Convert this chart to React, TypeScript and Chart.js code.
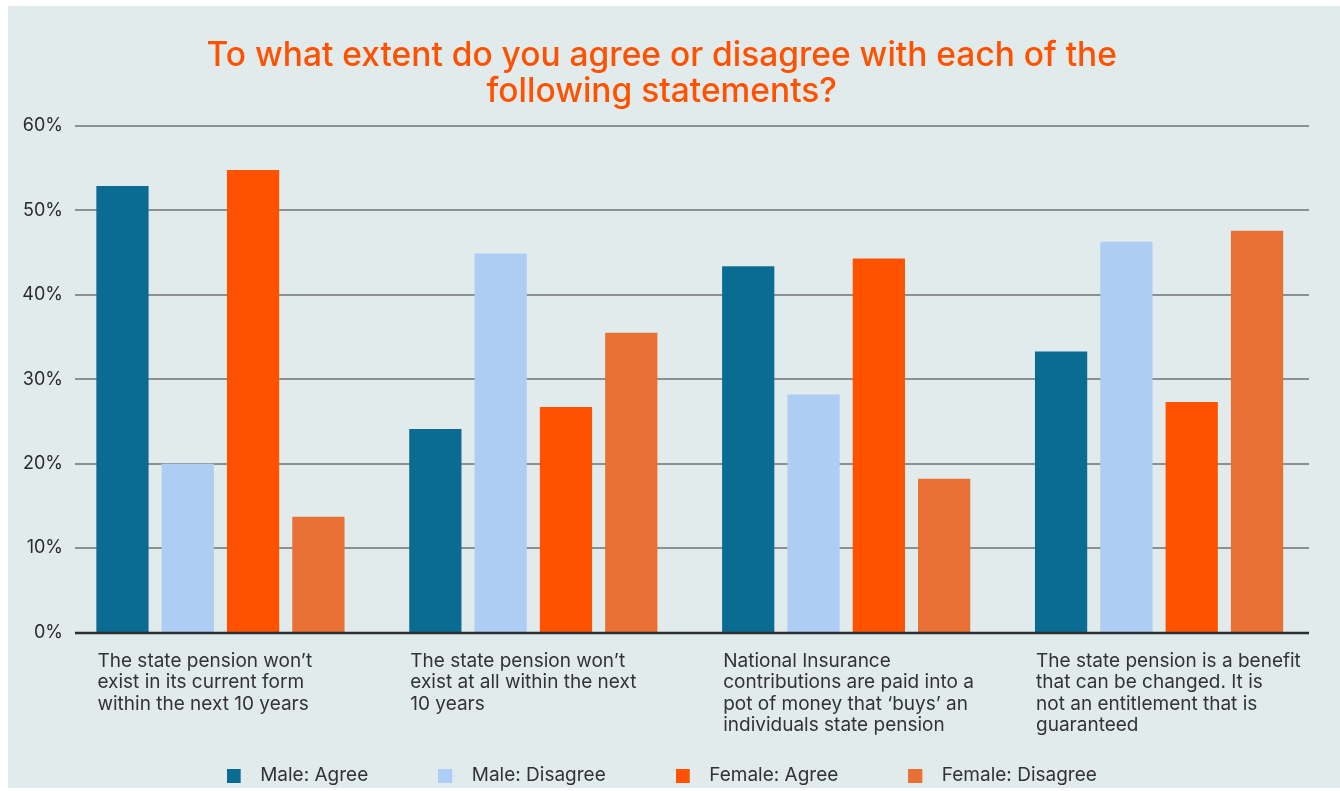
import React, { useEffect, useRef } from 'react';
import { Chart, registerables } from 'chart.js';

Chart.register(...registerables);

const titleLines = [
  'To what extent do you agree or disagree with each of the',
  'following statements?',
];

const categories: string[][] = [
  ['The state pension won’t', 'exist in its current form', 'within the next 10 years'],
  ['The state pension won’t', 'exist at all within the next', '10 years'],
  ['National Insurance', 'contributions are paid into a', 'pot of money that ‘buys’ an', 'individuals state pension'],
  ['The state pension is a benefit', 'that can be changed. It is', 'not an entitlement that is', 'guaranteed'],
];

const seriesNames = ['Male: Agree', 'Male: Disagree', 'Female: Agree', 'Female: Disagree'];
const maleAgree = [52.9, 24.1, 43.4, 33.3];
const maleDisagree = [20.0, 44.9, 28.2, 46.3];
const femaleAgree = [54.8, 26.7, 44.3, 27.3];
const femaleDisagree = [13.7, 35.5, 18.2, 47.6];
const seriesColors = ['#0b6c93', '#adcdf4', '#ff5200', '#e87034'];

const yMin = 0;
const yMax = 60;
const yStep = 10;

const FONT = 'Inter, "Noto Sans", sans-serif';

function makeLegendBox(color: string): HTMLCanvasElement {
  const c = document.createElement('canvas');
  c.width = 24;
  c.height = 14;
  const ctx = c.getContext('2d')!;
  ctx.fillStyle = color;
  ctx.fillRect(0, 0, 14, 14);
  return c;
}

const gridPlugin = {
  id: 'customGrid',
  beforeDatasetsDraw(chart: any) {
    const { ctx, chartArea, scales } = chart;
    const y = scales.y;
    ctx.save();
    y.ticks.forEach((t: any) => {
      if (t.value === 0) return;
      const py = Math.round(y.getPixelForValue(t.value));
      ctx.beginPath();
      ctx.strokeStyle = '#8c9092';
      ctx.lineWidth = 2;
      ctx.moveTo(chartArea.left + 11, py);
      ctx.lineTo(chartArea.right - 6.5, py);
      ctx.stroke();
    });
    ctx.restore();
  },
  afterDatasetsDraw(chart: any) {
    const { ctx, chartArea, scales } = chart;
    const py = scales.y.getPixelForValue(0);
    ctx.save();
    ctx.beginPath();
    ctx.strokeStyle = '#2a2e2f';
    ctx.lineWidth = 2.5;
    ctx.moveTo(chartArea.left + 11, py + 0.5);
    ctx.lineTo(chartArea.right - 6.5, py + 0.5);
    ctx.stroke();
    ctx.restore();
  },
};

export default function App() {
  const ref = useRef<HTMLCanvasElement | null>(null);

  useEffect(() => {
    if (!ref.current) return;
    const series = [maleAgree, maleDisagree, femaleAgree, femaleDisagree];
    const boxes = seriesColors.map(makeLegendBox);
    const chart = new Chart(ref.current, {
      type: 'bar',
      data: {
        labels: categories,
        datasets: series.map((d, i) => ({
          label: seriesNames[i],
          data: d,
          backgroundColor: seriesColors[i],
          borderWidth: 0,
          categoryPercentage: 0.835,
          barPercentage: 0.8,
        })),
      },
      plugins: [gridPlugin],
      options: {
        responsive: false,
        animation: false,
        events: [],
        layout: { padding: { left: 0, right: 24.5, top: 0, bottom: 0 } },
        plugins: {
          tooltip: { enabled: false },
          title: {
            display: true,
            text: titleLines,
            color: '#ff5200',
            font: { family: FONT, size: 33.5, weight: '500', lineHeight: 36 / 33.5 },
            padding: { top: 32, bottom: 16 },
          },
          legend: {
            display: true,
            position: 'bottom',
            labels: {
              usePointStyle: true,
              pointStyleWidth: 24,
              boxHeight: 14,
              padding: 70,
              color: '#333333',
              font: { family: FONT, size: 19 },
              generateLabels: (c: any) =>
                (Chart.defaults.plugins.legend.labels as any)
                  .generateLabels(c)
                  .map((l: any, i: number) => ({ ...l, pointStyle: boxes[i] })),
            },
          },
        },
        scales: {
          x: {
            offset: true,
            grid: { display: false, drawTicks: false },
            border: { display: false },
            ticks: {
              autoSkip: false,
              maxRotation: 0,
              minRotation: 0,
              align: 'start',
              labelOffset: -123,
              padding: 18,
              color: '#333333',
              font: { family: FONT, size: 19, lineHeight: 21.5 / 19 },
            },
            afterFit: (s: any) => {
              s.height = 63.5;
              s.paddingLeft = 0;
              s.paddingRight = 0;
              s._computeLabelArea = () => null;
            },
          },
          y: {
            min: yMin,
            max: yMax,
            grid: { display: false, drawTicks: false },
            border: { display: false },
            ticks: {
              stepSize: yStep,
              padding: 1,
              color: '#2b2b2b',
              font: { family: FONT, size: 18 },
              callback: (v: any) => `${v}%`,
            },
            afterFit: (s: any) => {
              s.width = 56;
            },
          },
        },
      } as any,
    });
    return () => chart.destroy();
  }, []);

  return (
    <div
      style={{
        position: 'absolute',
        left: 8,
        top: 6,
        width: 1332,
        height: 782,
        overflow: 'hidden',
        background: '#e1ebec',
      }}
    >
      <canvas ref={ref} width={1332} height={789} style={{ display: 'block', width: 1332, height: 789 }} />
    </div>
  );
}
